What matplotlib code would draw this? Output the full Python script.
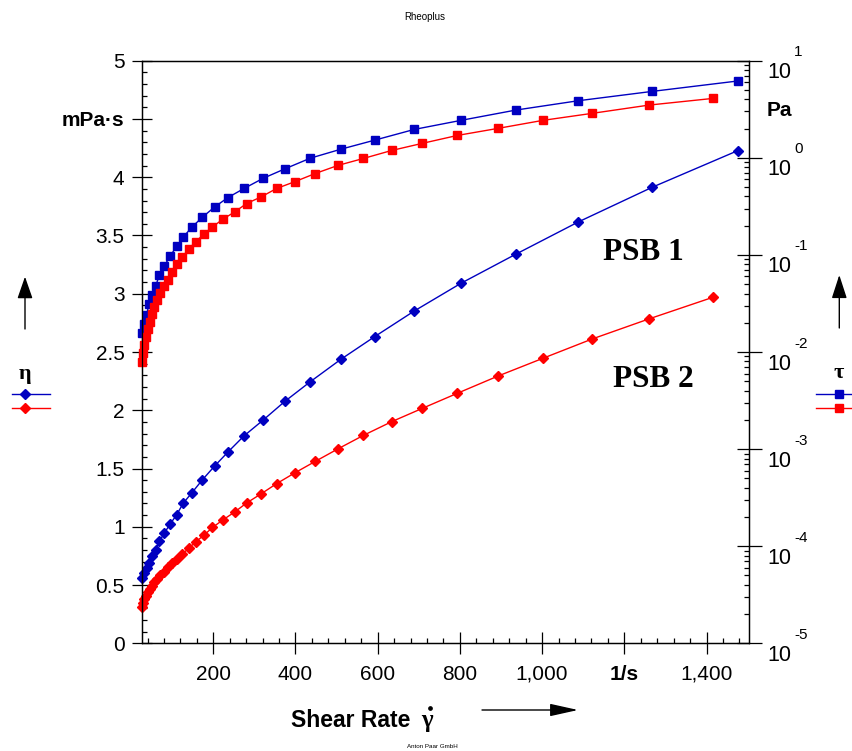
import matplotlib
matplotlib.use('Agg')
import matplotlib.pyplot as plt
from matplotlib.ticker import MultipleLocator, FixedLocator, LogLocator, NullFormatter
from matplotlib.lines import Line2D
import numpy as np

plt.rcParams['font.family'] = ['Liberation Sans', 'DejaVu Sans']

# ---------------- data ----------------
# PSB 1 (blue): shear rate [1/s], viscosity eta [mPa*s], shear stress tau [Pa]
psb1_rate = [27.7, 32.1, 37.5, 43.6, 51.6, 59.9, 68.6, 80.5, 95.1, 110.5, 127, 148.2,
             173.2, 203.4, 235.8, 274.7, 321.7, 374, 436, 510.7, 592.7, 689, 802.7,
             935.8, 1088, 1268, 1476]
psb1_eta = [0.558, 0.603, 0.646, 0.689, 0.745, 0.805, 0.874, 0.944, 1.024, 1.101, 1.203,
            1.293, 1.402, 1.522, 1.642, 1.780, 1.917, 2.076, 2.245, 2.438, 2.632, 2.852,
            3.090, 3.339, 3.616, 3.914, 4.228]
psb1_tau = [0.0156, 0.0195, 0.0242, 0.0309, 0.0389, 0.0480, 0.0615, 0.0767, 0.0971,
            0.1225, 0.1528, 0.1937, 0.244, 0.312, 0.390, 0.483, 0.616, 0.769, 0.991,
            1.227, 1.52, 1.96, 2.43, 3.10, 3.87, 4.83, 6.18]

# PSB 2 (red)
psb2_rate = [25.5, 28.5, 32, 35.5, 40, 45, 50, 56.5, 63, 71, 80, 89, 99, 111, 125, 140,
             157, 177, 198, 223, 252, 281, 316, 354, 398, 448, 503, 565, 634, 709, 794,
             893, 1002, 1122, 1260, 1416]
psb2_eta = [0.312, 0.346, 0.380, 0.410, 0.440, 0.466, 0.494, 0.522, 0.552, 0.582, 0.616,
            0.651, 0.685, 0.724, 0.767, 0.815, 0.870, 0.927, 0.994, 1.058, 1.127, 1.204,
            1.282, 1.370, 1.462, 1.561, 1.668, 1.784, 1.902, 2.017, 2.146, 2.294, 2.446,
            2.612, 2.784, 2.970]
psb2_tau = [0.0078, 0.00977, 0.0119, 0.0143, 0.0171, 0.0204, 0.0244, 0.0288, 0.0340,
            0.0401, 0.0474, 0.0547, 0.0665, 0.080, 0.0951, 0.115, 0.136, 0.164, 0.194,
            0.233, 0.277, 0.338, 0.395, 0.483, 0.567, 0.689, 0.834, 0.984, 1.19, 1.41,
            1.70, 2.01, 2.43, 2.87, 3.49, 4.09]

x_ticks = [200, 400, 600, 800, 1000, 1200, 1400]
x_ticklabels = ['200', '400', '600', '800', '1,000', '1/s', '1,400']
y_ticks = [0, 0.5, 1, 1.5, 2, 2.5, 3, 3.5, 4, 4.5, 5]
y_ticklabels = ['0', '0.5', '1', '1.5', '2', '2.5', '3', '3.5', '4', 'mPa·s', '5']
decades = [-5, -4, -3, -2, -1, 0, 1]

# ---------------- figure ----------------
W, H = 853, 751
fig = plt.figure(figsize=(W / 100, H / 100), dpi=100)
L, R, T, B = 141.7, 749.0, 60.7, 643.3
ax = fig.add_axes([L / W, 1 - B / H, (R - L) / W, (B - T) / H])
ax.set_xlim(25.8, 1503.4)
ax.set_ylim(0, 5)
ax2 = ax.twinx()
ax2.set_yscale('log')
ax2.set_ylim(1e-5, 10)

BLUE = '#0000c0'
RED = '#ff0000'

ax.plot(psb1_rate, psb1_eta, color=BLUE, lw=1.0, marker='D', ms=4.8, clip_on=False)
ax.plot(psb2_rate, psb2_eta, color=RED, lw=1.0, marker='D', ms=4.8, clip_on=False)
ax2.plot(psb1_rate, psb1_tau, color=BLUE, lw=1.0, marker='s', ms=6.0, clip_on=False)
ax2.plot(psb2_rate, psb2_tau, color=RED, lw=1.0, marker='s', ms=6.0, clip_on=False)

for a in (ax, ax2):
    for s in a.spines.values():
        s.set_linewidth(0.9)

# x axis
ax.xaxis.set_major_locator(FixedLocator(x_ticks))
ax.set_xticklabels(x_ticklabels, fontsize=15)
ax.get_xticklabels()[5].set_fontweight('bold')
ax.xaxis.set_minor_locator(MultipleLocator(40))
ax.tick_params(axis='x', which='major', direction='inout', length=16, width=0.9, pad=7.5)
ax.tick_params(axis='x', which='minor', direction='in', length=3.8, width=0.9)

# left y axis
ax.yaxis.set_major_locator(FixedLocator(y_ticks))
ax.set_yticklabels(y_ticklabels, fontsize=15)
ax.get_yticklabels()[9].set_fontweight('bold')
ax.yaxis.set_minor_locator(MultipleLocator(0.1))
ax.tick_params(axis='y', which='major', direction='inout', length=15, width=0.9, pad=4.8)
ax.tick_params(axis='y', which='minor', direction='in', length=3.6, width=0.9)

# right log axis
ax2.yaxis.set_major_locator(LogLocator(base=10, numticks=20))
ax2.yaxis.set_minor_locator(LogLocator(base=10, subs=np.arange(2, 10), numticks=20))
ax2.yaxis.set_minor_formatter(NullFormatter())
ax2.tick_params(axis='y', which='major', direction='inout', length=18, width=0.9,
                labelright=False)
ax2.tick_params(axis='y', which='minor', direction='in', length=3.6, width=0.9)
for d in decades:
    ax2.annotate('10', xy=(1, 10.0 ** d), xycoords=('axes fraction', 'data'),
                 xytext=(13.5, -1.1), textcoords='offset points',
                 fontsize=15.5, ha='left', va='top', annotation_clip=False)
    ax2.annotate(str(d), xy=(1, 10.0 ** d), xycoords=('axes fraction', 'data'),
                 xytext=(32.6, 3.2), textcoords='offset points',
                 fontsize=11, ha='left', va='baseline', annotation_clip=False)

# unit labels / texts
fig.text(767 / W, 1 - 110 / H, 'Pa', fontsize=15, fontweight='bold', ha='left', va='center')
fig.text(425 / W, 1 - 17 / H, 'Rheoplus', fontsize=7, ha='center', va='center')
fig.text(432 / W, 1 - 746 / H, 'Anton Paar GmbH', fontsize=4.5, ha='center', va='center')
fig.text(291.5 / W, 1 - 727.3 / H, 'Shear Rate', fontsize=16.5, fontweight='bold',
         ha='left', va='baseline')
fig.text(421.5 / W, 1 - 727.3 / H, 'γ', fontsize=18, fontweight='bold',
         ha='left', va='baseline', family=['Liberation Serif', 'DejaVu Serif'])
# dot over gamma (drawn as a small marker)
fig.add_artist(Line2D([429.5 / W], [1 - 707.5 / H], marker='o', ms=2.4, color='black',
                      lw=0, transform=fig.transFigure))
fig.text(603.3 / W, 1 - 260 / H, 'PSB 1', fontsize=22.5, fontweight='bold',
         family=['Liberation Serif', 'DejaVu Serif'], ha='left', va='baseline')
fig.text(613.3 / W, 1 - 386.7 / H, 'PSB 2', fontsize=22.5, fontweight='bold',
         family=['Liberation Serif', 'DejaVu Serif'], ha='left', va='baseline')
fig.text(25 / W, 1 - 374 / H, 'η', fontsize=16, fontweight='bold',
         family=['Liberation Serif', 'DejaVu Serif'], ha='center', va='center')
fig.text(839 / W, 1 - 373 / H, 'τ', fontsize=16, fontweight='bold',
         family=['Liberation Serif', 'DejaVu Serif'], ha='center', va='center')

# legend keys
def key(x0, x1, xm, y, color, marker, ms):
    fig.add_artist(Line2D([x0 / W, xm / W, x1 / W], [1 - y / H] * 3, color=color, lw=1.0,
                          marker=marker, ms=ms, markevery=[1], transform=fig.transFigure))

key(12, 50, 25, 394.3, BLUE, 'D', 4.8)
key(12, 50, 25, 408.0, RED, 'D', 4.8)
key(816, 853, 839, 394.3, BLUE, 's', 6.0)
key(816, 853, 839, 407.7, RED, 's', 6.0)

# arrows
def arrow(x0, y0, x1, y1, hl, hw):
    ax.annotate('', xy=(x1, H - y1), xytext=(x0, H - y0),
                xycoords='figure pixels', textcoords='figure pixels',
                arrowprops=dict(arrowstyle=f'-|>,head_length={hl},head_width={hw}',
                                color='black', lw=1.0, shrinkA=0, shrinkB=0,
                                mutation_scale=10),
                annotation_clip=False)

arrow(482, 710, 578, 710, 1.73, 0.385)
arrow(25, 329, 25, 276.7, 1.35, 0.47)
arrow(839.3, 328, 839.3, 275, 1.45, 0.47)

fig.savefig('out.png', dpi=100)
